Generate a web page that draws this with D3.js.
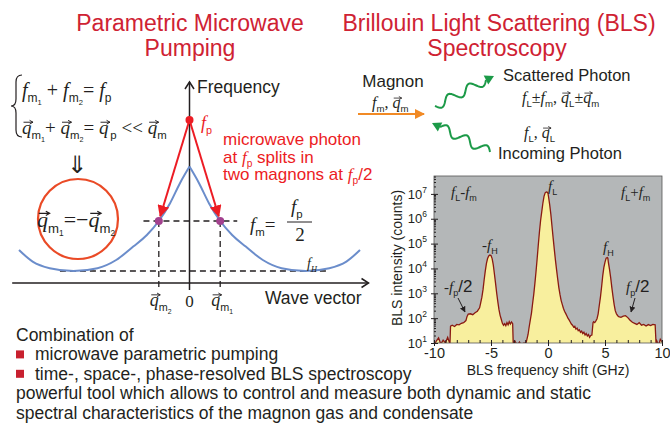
<!DOCTYPE html>
<html><head><meta charset="utf-8">
<script src="https://cdn.jsdelivr.net/npm/d3@7"></script>
<style>body{margin:0;background:#fff}svg{display:block}</style>
</head><body>
<svg id="c" width="670" height="428"></svg>
<script>
// ---------------- DATA ----------------
// BLS spectrum: frequency shift (GHz) and intensity (counts)
const specFreq = [-10,-9.8,-9.6,-9.4,-9.2,-9.0,-8.8,-8.6,-8.55,-8.4,-8.2,-8.0,-7.8,-7.6,-7.4,-7.2,-7.1,-7.0,-6.8,-6.6,-6.4,-6.2,-6.0,-5.9,-5.8,-5.7,-5.6,-5.5,-5.4,-5.3,-5.2,-5.1,-5.0,-4.9,-4.8,-4.7,-4.6,-4.5,-4.4,-4.3,-4.2,-4.1,-4.0,-3.9,-3.8,-3.7,-3.6,-3.5,-3.4,-3.3,-3.2,-3.1,-3.05,-2.9,-2.7,-2.5,-2.3,-2.1,-1.95,-1.85,-1.75,-1.65,-1.55,-1.45,-1.35,-1.25,-1.15,-1.05,-0.95,-0.85,-0.75,-0.65,-0.55,-0.45,-0.35,-0.25,-0.15,-0.05,0.0,0.05,0.15,0.25,0.35,0.45,0.55,0.65,0.75,0.85,0.95,1.05,1.15,1.25,1.35,1.45,1.55,1.65,1.75,1.85,1.95,2.05,2.15,2.25,2.35,2.45,2.55,2.65,2.75,2.85,2.95,3.05,3.15,3.25,3.35,3.45,3.55,3.65,3.75,3.85,3.95,4.0,4.1,4.2,4.3,4.4,4.5,4.6,4.7,4.8,4.9,5.0,5.1,5.2,5.25,5.3,5.4,5.5,5.6,5.7,5.8,5.9,6.0,6.1,6.2,6.4,6.6,6.8,7.0,7.2,7.4,7.6,7.8,8.0,8.2,8.4,8.6,8.8,9.0,9.2,9.4,9.48,9.55,9.7,9.85,10];
const specCounts = [8,12,16,9,13,10,17,9,48,52,46,56,54,62,66,80,118,145,150,138,165,190,260,420,700,1400,3500,8000,16000,25000,32000,35000,33000,25000,14000,6000,2500,1000,450,220,130,90,62,52,60,50,66,54,72,58,70,60,9,12,8,11,7,10,9,14,22,45,85,160,390,900,2500,7500,25000,90000,300000,850000,1900000,4200000,8000000,11000000,12000000,11500000,10500000,7500000,3600000,1500000,500000,170000,60000,22000,9000,3800,1700,900,520,360,250,190,155,125,100,85,70,58,52,44,47,36,40,31,34,27,30,24,27,21,24,19,22,17,20,21,65,72,66,78,95,150,330,700,1800,5000,11000,18000,26000,27500,26000,17000,9000,4200,1700,750,360,200,150,128,115,108,120,126,105,82,68,62,56,66,52,56,48,55,50,56,54,9,12,8,14,11];
const yTickExps = [1,2,3,4,5,6,7];
const xTickVals = [-10,-5,0,5,10];

// Magnon dispersion (schematic): wave vector q (a.u.) and frequency f (a.u.)
const dispQ = [-1.0,-0.92,-0.82,-0.68,-0.54,-0.43,-0.33,-0.25,-0.18,-0.114,-0.056,0.0,0.056,0.114,0.18,0.25,0.33,0.43,0.54,0.68,0.82,0.92,1.0];
const dispF = [1.65,1.07,0.74,0.6,0.74,1.15,1.82,2.4,3.1,3.99,4.99,5.82,4.99,3.99,3.1,2.4,1.82,1.15,0.74,0.6,0.74,1.07,1.65];
const levelNames = ['fH','fHalf','fp'];
const levelValues = [0.6, 3.1, 8.15];
const pairQ = [-0.18, 0.18];

const titles = ['Parametric Microwave','Pumping','Brillouin Light Scattering (BLS)','Spectroscopy'];
const bottomLines = ['Combination of','microwave parametric pumping','time-, space-, phase-resolved BLS spectroscopy',
  'powerful tool which allows to control and measure both dynamic and static',
  'spectral characteristics of the magnon gas and condensate'];
const bottomBullets = [false,true,true,false,false];

// ---------------- HELPERS ----------------
const SERIF = "'Liberation Serif','Times New Roman',serif";
const SANS = "'Liberation Sans',Arial,sans-serif";
const INK = '#231f20';
const RED = '#ec1c24';
const CRIMSON = '#cf2233';
const svg = d3.select('#c');
const lvl = n => levelValues[levelNames.indexOf(n)];

function mathRow(g, x0, y, S, segs, color) {
  let x = x0;
  color = color || INK;
  segs.forEach(([txt, kind, extra]) => {
    if (kind === 'sp') { x += S * txt; return; }
    let fs = S, fam = SERIF, st = 'normal', dy = 0, vec = false;
    if (kind === 'v') st = 'italic';
    if (kind === 'q') { st = 'italic'; vec = true; }
    if (kind === 's') { fam = SANS; fs = S * 0.6; dy = S * 0.26; }
    if (kind === 'ss') { fam = SANS; fs = S * 0.38; dy = S * 0.42; }
    if (kind === 'vs') { st = 'italic'; fs = S * 0.6; dy = S * 0.25; }
    if (kind === 't') { fam = SANS; fs = extra || S; }
    const t = g.append('text').attr('x', x).attr('y', y + dy)
      .attr('font-family', fam).attr('font-size', fs).attr('font-style', st)
      .attr('fill', color).style('white-space', 'pre').text(txt);
    const w = t.node().getComputedTextLength();
    if (vec) {
      const ya = y - S * 0.62, xa = x + S * 0.08, xb = x + w + S * 0.08;
      g.append('path').attr('d', `M${xa},${ya}L${xb},${ya}M${xb - S * 0.18},${ya - S * 0.1}L${xb},${ya}L${xb - S * 0.18},${ya + S * 0.1}`)
        .attr('fill', 'none').attr('stroke', color).attr('stroke-width', S * 0.05);
    }
    x += w;
  });
  return x;
}

// ---------------- TITLES ----------------
[[190, 31, 0], [190, 56, 1], [499, 31, 2], [497, 56, 3]].forEach(([x, y, i]) => {
  svg.append('text').attr('x', x).attr('y', y).attr('text-anchor', 'middle')
    .attr('font-family', SANS).attr('font-size', 23).attr('fill', CRIMSON).text(titles[i]);
});

// ---------------- LEFT: EQUATIONS ----------------
const gL = svg.append('g');
gL.append('path').attr('d', 'M22,75Q16,75 16,82L16,99Q16,106 11,106Q16,106 16,113L16,130Q16,137 22,137')
  .attr('fill', 'none').attr('stroke', INK).attr('stroke-width', 1.2);
mathRow(gL, 22, 97, 20, [['f','v'],['m','s'],['1','ss'],[' + ','o'],['f','v'],['m','s'],['2','ss'],['= ','o'],['f','v'],['p','s']]);
mathRow(gL, 22, 134, 19, [['q','q'],['m','s'],['1','ss'],['+ ','o'],['q','q'],['m','s'],['2','ss'],['= ','o'],['q','q'],[0.1,'sp'],['p','s'],[' <<','o'],[0.25,'sp'],['q','q'],['m','s']]);
gL.append('text').attr('x', 77).attr('y', 173).attr('text-anchor', 'middle').attr('font-family', "'DejaVu Sans'")
  .attr('font-size', 24).attr('fill', INK).text('⇓');
gL.append('circle').attr('cx', 78).attr('cy', 219).attr('r', 40).attr('fill', 'none')
  .attr('stroke', '#ea4a26').attr('stroke-width', 2.2);
mathRow(gL, 37, 227, 22, [['q','q'],['m','s'],['1','ss'],['=','o'],['−','o'],['q','q'],['m','s'],['2','ss']]);

// ---------------- LEFT: DISPERSION DIAGRAM ----------------
const xq = d3.scaleLinear([-1, 1], [19, 360]);
const yf = d3.scaleLinear([0, 10], [283, 83]);
const gD = svg.append('g');
gD.append('line').attr('x1', xq(-1.04)).attr('x2', xq(1.05)).attr('y1', yf(0)).attr('y2', yf(0)).attr('stroke', INK).attr('stroke-width', 1.5);
gD.append('path').attr('d', `M${xq(1.05) - 7},${yf(0) - 4.5}L${xq(1.05)},${yf(0)}L${xq(1.05) - 7},${yf(0) + 4.5}`).attr('fill', 'none').attr('stroke', INK).attr('stroke-width', 1.5);
gD.append('line').attr('x1', xq(0)).attr('x2', xq(0)).attr('y1', yf(-0.35)).attr('y2', yf(10.05)).attr('stroke', INK).attr('stroke-width', 1.5);
gD.append('path').attr('d', `M${xq(0) - 4.5},${yf(10.05) + 7}L${xq(0)},${yf(10.05)}L${xq(0) + 4.5},${yf(10.05) + 7}`).attr('fill', 'none').attr('stroke', INK).attr('stroke-width', 1.5);
gD.append('text').attr('x', 197).attr('y', 93).attr('font-family', SANS).attr('font-size', 17.5).attr('fill', INK).text('Frequency');
gD.append('text').attr('x', 265).attr('y', 304).attr('font-family', SANS).attr('font-size', 17.5).attr('fill', INK).text('Wave vector');

const dash = (x1, y1, x2, y2) => gD.append('line').attr('x1', x1).attr('y1', y1).attr('x2', x2).attr('y2', y2)
  .attr('stroke', INK).attr('stroke-width', 1.3).attr('stroke-dasharray', '6,4');
dash(xq(-0.76), yf(lvl('fH')), xq(0.8), yf(lvl('fH')));
dash(xq(-0.27), yf(lvl('fHalf')), xq(0.28), yf(lvl('fHalf')));
pairQ.forEach(q => dash(xq(q), yf(lvl('fHalf')), xq(q), yf(-0.35)));

const dispPts = dispQ.map((q, i) => [q, dispF[i]]);
const lineD = d3.line().x(d => xq(d[0])).y(d => yf(d[1])).curve(d3.curveMonotoneX);
gD.append('path').attr('d', lineD(dispPts.filter(d => d[0] <= 0))).attr('fill', 'none').attr('stroke', '#6b8dcb').attr('stroke-width', 2);
gD.append('path').attr('d', lineD(dispPts.filter(d => d[0] >= 0))).attr('fill', 'none').attr('stroke', '#6b8dcb').attr('stroke-width', 2);

const defs = svg.append('defs');
defs.append('marker').attr('id', 'redHead').attr('viewBox', '0 0 10 10').attr('refX', 9).attr('refY', 5)
  .attr('markerWidth', 6).attr('markerHeight', 6).attr('markerUnits', 'strokeWidth').attr('orient', 'auto')
  .append('path').attr('d', 'M0,0L10,5L0,10Z').attr('fill', RED);
pairQ.forEach(q => {
  const x0 = xq(0), y0 = yf(lvl('fp')), x1 = xq(q), y1 = yf(lvl('fHalf'));
  const L = Math.hypot(x1 - x0, y1 - y0), k = (L - 5) / L;
  gD.append('line').attr('x1', x0).attr('y1', y0).attr('x2', x0 + (x1 - x0) * k).attr('y2', y0 + (y1 - y0) * k)
    .attr('stroke', RED).attr('stroke-width', 2).attr('marker-end', 'url(#redHead)');
});
gD.append('circle').attr('cx', xq(0)).attr('cy', yf(lvl('fp'))).attr('r', 4).attr('fill', RED);
pairQ.forEach(q => gD.append('circle').attr('cx', xq(q)).attr('cy', yf(lvl('fHalf'))).attr('r', 4).attr('fill', '#a3418f'));

mathRow(gD, 201, 129, 18, [['f','v'],['p','s']], RED);
mathRow(gD, 223, 145, 17, [['microwave photon','t']], RED);
mathRow(gD, 223, 162.5, 17, [['at ','t'],['f','v'],['p','s'],[' splits in','t']], RED);
mathRow(gD, 223, 180, 17, [['two magnons at ','t'],['f','v'],['p','s'],['/2','t']], RED);
mathRow(gD, 250, 231, 19, [['f','v'],['m','s'],['= ','o']]);
mathRow(gD, 291, 213, 19, [['f','v'],['p','s']]);
gD.append('line').attr('x1', 287).attr('x2', 312).attr('y1', 222).attr('y2', 222).attr('stroke', INK).attr('stroke-width', 1);
gD.append('text').attr('x', 300).attr('y', 241).attr('text-anchor', 'middle').attr('font-family', SERIF).attr('font-size', 19).attr('fill', INK).text('2');
mathRow(gD, 307, 268, 14, [['f','v'],['H','vs']]);
mathRow(gD, xq(pairQ[0]) - 9, 306, 18, [['q','q'],['m','s'],['2','ss']]);
mathRow(gD, xq(pairQ[1]) - 9, 306, 18, [['q','q'],['m','s'],['1','ss']]);
gD.append('text').attr('x', xq(0)).attr('y', 307).attr('text-anchor', 'middle').attr('font-family', SERIF).attr('font-size', 17).attr('fill', INK).text('0');

// ---------------- RIGHT: SCATTERING SKETCH ----------------
const gS = svg.append('g');
gS.append('text').attr('x', 393).attr('y', 87).attr('text-anchor', 'middle').attr('font-family', SANS).attr('font-size', 17).attr('fill', INK).text('Magnon');
mathRow(gS, 372, 108, 16, [['f','v'],['m','s'],[', ','o'],['q','q'],['m','s']]);
defs.append('marker').attr('id', 'orHead').attr('viewBox', '0 0 10 10').attr('refX', 9).attr('refY', 5)
  .attr('markerWidth', 5).attr('markerHeight', 5).attr('markerUnits', 'strokeWidth').attr('orient', 'auto')
  .append('path').attr('d', 'M0,0L10,5L0,10Z').attr('fill', '#f18a25');
gS.append('line').attr('x1', 358).attr('y1', 114).attr('x2', 424).attr('y2', 114).attr('stroke', '#f18a25').attr('stroke-width', 2).attr('marker-end', 'url(#orHead)');

function wavy(x1, y1, x2, y2, waves, amp) {
  const dx = x2 - x1, dy = y2 - y1, L = Math.hypot(dx, dy), ux = dx / L, uy = dy / L, nx = -uy, ny = ux;
  const head = 9, Lw = L - head, pts = [];
  for (let i = 0; i <= 80; i++) {
    const s = i / 80 * Lw, o = amp * Math.sin(s / Lw * waves * 2 * Math.PI);
    pts.push([x1 + ux * s + nx * o, y1 + uy * s + ny * o]);
  }
  gS.append('path').attr('d', d3.line()(pts)).attr('fill', 'none').attr('stroke', '#1c9a48').attr('stroke-width', 2);
  const bx = x1 + ux * Lw, by = y1 + uy * Lw;
  gS.append('path').attr('d', `M${x2},${y2}L${bx + nx * 5},${by + ny * 5}L${bx - nx * 5},${by - ny * 5}Z`).attr('fill', '#1c9a48');
}
wavy(435, 106, 494, 76, 2.5, 4.5);
wavy(490, 152, 432, 123, 2.5, 4.5);
gS.append('text').attr('x', 503).attr('y', 81).attr('font-family', SANS).attr('font-size', 16.5).attr('fill', INK).text('Scattered Photon');
mathRow(gS, 522, 103, 16, [['f','v'],['L','s'],['±','o'],['f','v'],['m','s'],[', ','o'],['q','q'],['L','s'],['±','o'],['q','q'],['m','s']]);
mathRow(gS, 524, 138, 16, [['f','v'],['L','s'],[', ','o'],['q','q'],['L','s']]);
gS.append('text').attr('x', 498).attr('y', 159).attr('font-family', SANS).attr('font-size', 16.5).attr('fill', INK).text('Incoming Photon');

// ---------------- RIGHT: BLS SPECTRUM ----------------
const px = d3.scaleLinear([-10, 10], [434, 662]);
const py = d3.scaleLog([10, Math.pow(10, 7.72)], [343, 176]);
const gP = svg.append('g');
const plotRect = sel => sel.attr('x', px(-10)).attr('y', py.range()[1]).attr('width', px(10) - px(-10)).attr('height', py.range()[0] - py.range()[1]);
defs.append('clipPath').attr('id', 'plotClip').append('rect').call(plotRect);
gP.append('rect').call(plotRect).attr('fill', '#b4b7b8');
const spec = specFreq.map((f, i) => [f, specCounts[i]]);
const gClip = gP.append('g').attr('clip-path', 'url(#plotClip)');
gClip.append('path').attr('d', d3.area().x(d => px(d[0])).y0(py.range()[0] + 2).y1(d => py(d[1]))(spec)).attr('fill', '#f8ef9e');
gClip.append('path').attr('d', d3.line().x(d => px(d[0])).y(d => py(d[1]))(spec)).attr('fill', 'none').attr('stroke', '#8a1a12').attr('stroke-width', 1.3);
gP.append('rect').call(plotRect).attr('fill', 'none').attr('stroke', '#555').attr('stroke-width', 0.8);

const yMajor = yTickExps.map(e => Math.pow(10, e));
const yMinor = [];
yTickExps.forEach(e => { for (let m = 2; m <= 9; m++) { const v = m * Math.pow(10, e); if (v < py.domain()[1]) yMinor.push(v); } });
const yAx = gP.append('g').attr('transform', `translate(${px(-10)},0)`)
  .call(d3.axisLeft(py).tickValues(yMajor).tickSize(3).tickPadding(3).tickFormat(() => '10'));
yAx.select('.domain').remove();
yAx.selectAll('text').attr('font-family', SANS).attr('font-size', 13).attr('fill', INK).attr('dx', -1)
  .each(function (d) {
    d3.select(this).append('tspan').attr('dy', -6).attr('font-size', 8.5).text(Math.round(Math.log10(d)));
  });
yAx.selectAll('line').attr('stroke', INK);
gP.append('g').attr('transform', `translate(${px(-10)},0)`).call(d3.axisRight(py).tickValues(yMajor).tickSize(4).tickFormat(''))
  .call(g => g.select('.domain').remove()).selectAll('line').attr('stroke', INK);
gP.append('g').attr('transform', `translate(${px(-10)},0)`).call(d3.axisRight(py).tickValues(yMinor).tickSize(2).tickFormat(''))
  .call(g => g.select('.domain').remove()).selectAll('line').attr('stroke', INK);

const xMinor = d3.range(-10, 10.5, 1);
const xAx = gP.append('g').attr('transform', `translate(0,${py.range()[0]})`)
  .call(d3.axisBottom(px).tickValues(xTickVals).tickSize(3).tickPadding(2).tickFormat(d => String(d)));
xAx.select('.domain').remove();
xAx.selectAll('text').attr('font-family', SANS).attr('font-size', 14.5).attr('fill', INK);
xAx.selectAll('line').attr('stroke', INK);
gP.append('g').attr('transform', `translate(0,${py.range()[0]})`).call(d3.axisTop(px).tickValues(xMinor).tickSize(3).tickFormat(''))
  .call(g => g.select('.domain').remove()).selectAll('line').attr('stroke', INK);

gP.append('text').attr('x', 548).attr('y', 374.5).attr('text-anchor', 'middle').attr('font-family', SANS).attr('font-size', 14).attr('fill', INK).text('BLS frequency shift (GHz)');
gP.append('text').attr('transform', 'translate(402,258) rotate(-90)').attr('text-anchor', 'middle').attr('font-family', SANS).attr('font-size', 14).attr('fill', INK).text('BLS intensity (counts)');

mathRow(gP, 451, 197, 15, [['f','v'],['L','s'],['-','o'],['f','v'],['m','s']]);
mathRow(gP, 548, 191, 15, [['f','v'],['L','s']]);
mathRow(gP, 621, 197, 15, [['f','v'],['L','s'],['+','o'],['f','v'],['m','s']]);
mathRow(gP, 482, 250, 15, [['-','o'],['f','v'],['H','s']]);
mathRow(gP, 603, 252, 15, [['f','v'],['H','s']]);
mathRow(gP, 444, 292, 15, [['-','o'],['f','v'],['p','s'],['/2','t',17]]);
mathRow(gP, 626, 292, 15, [['f','v'],['p','s'],['/2','t',17]]);
defs.append('marker').attr('id', 'blkHead').attr('viewBox', '0 0 10 10').attr('refX', 9).attr('refY', 5)
  .attr('markerWidth', 6).attr('markerHeight', 6).attr('markerUnits', 'strokeWidth').attr('orient', 'auto')
  .append('path').attr('d', 'M0,0L10,5L0,10Z').attr('fill', INK);
gP.append('line').attr('x1', 458).attr('y1', 298).attr('x2', 465).attr('y2', 312).attr('stroke', INK).attr('stroke-width', 1).attr('marker-end', 'url(#blkHead)');
gP.append('line').attr('x1', 635).attr('y1', 298).attr('x2', 631).attr('y2', 312).attr('stroke', INK).attr('stroke-width', 1).attr('marker-end', 'url(#blkHead)');

// ---------------- BOTTOM TEXT ----------------
const gB = svg.append('g');
bottomLines.forEach((t, i) => {
  const y = 341 + i * 19.4;
  if (bottomBullets[i]) {
    gB.append('rect').attr('x', 16).attr('y', y - 10).attr('width', 8).attr('height', 8).attr('fill', '#c8202f');
  }
  gB.append('text').attr('x', bottomBullets[i] ? 35 : 16).attr('y', y).attr('font-family', SANS).attr('font-size', 17.5).attr('fill', INK).text(t);
});
</script>
</body></html>
